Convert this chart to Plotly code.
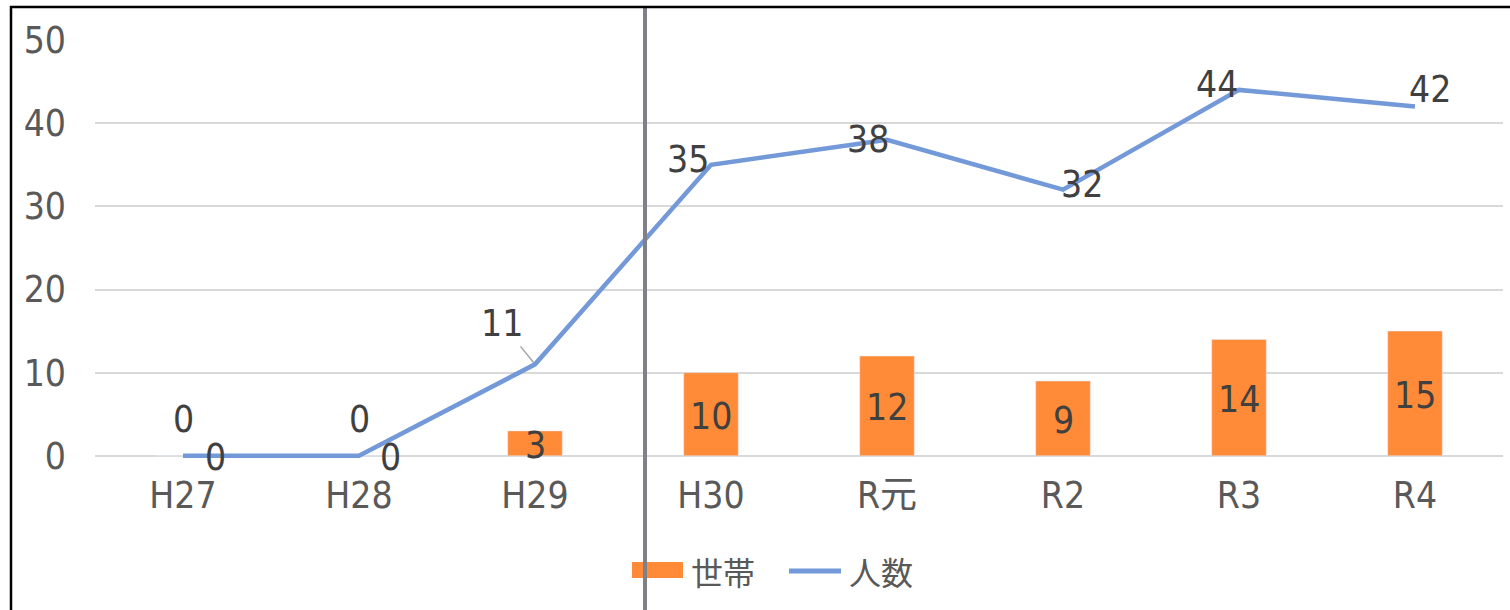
import plotly.graph_objects as go

categories = ["H27", "H28", "H29", "H30", "R元", "R2", "R3", "R4"]
households = [0, 0, 3, 10, 12, 9, 14, 15]
persons = [0, 0, 11, 35, 38, 32, 44, 42]
y_ticks = [0, 10, 20, 30, 40, 50]

# label offsets (pixels) for line labels
line_label_shift = [(32, -2), (31, -2), (-33, 41), (-23, 5), (-19, 0), (19, 5), (-22, 5), (15, 17)]

FONT = "DejaVu Sans Condensed, Noto Sans CJK JP, sans-serif"
LBL = 37
ORANGE = "#FF8A38"
BLUE = "#7399D9"

# plot-area geometry in pixels (for the hand-drawn legend and frame)
L, R_, T, B = 95, 7, 40, 150
W, H = 1510, 610
PW, PH = W - L - R_, H - T - B


def px(x):
    return (x - L) / PW


def py(y):
    return (H - B - y) / PH


fig = go.Figure()
fig.add_trace(go.Bar(x=categories, y=households, name="世帯", marker_color=ORANGE,
                     width=0.31, showlegend=False))
fig.add_trace(go.Scatter(x=categories, y=persons, name="人数", mode="lines",
                         line=dict(color=BLUE, width=4.5), showlegend=False))

anns = []
for c, v in zip(categories, households):
    if v == 0:
        anns.append(dict(x=c, y=v, text=str(v), showarrow=False, yshift=36,
                         font=dict(size=LBL, color="#404040", family=FONT)))
    else:
        anns.append(dict(x=c, y=v / 2, text=str(v), showarrow=False, yshift=-2,
                         font=dict(size=LBL, color="#404040", family=FONT)))
for c, v, (dx, dy) in zip(categories, persons, line_label_shift):
    if c == "H29":
        anns.append(dict(x=c, y=v, text=str(v), showarrow=True, arrowhead=0,
                         arrowwidth=1.5, arrowcolor="#A6A6A6", ax=dx, ay=-dy, standoff=2,
                         font=dict(size=LBL, color="#404040", family=FONT)))
    else:
        anns.append(dict(x=c, y=v, text=str(v), showarrow=False, xshift=dx, yshift=dy,
                         font=dict(size=LBL, color="#404040", family=FONT)))

# legend (drawn by hand so the swatches match the reference size)
legend_font = dict(size=32, family="Noto Sans CJK JP", color="#595959")
anns.append(dict(xref="paper", yref="paper", x=px(689), y=py(571), xanchor="left",
                 yanchor="middle", text="世帯", showarrow=False, font=legend_font))
anns.append(dict(xref="paper", yref="paper", x=px(847), y=py(571), xanchor="left",
                 yanchor="middle", text="人数", showarrow=False, font=legend_font))

fig.update_layout(
    width=W, height=H,
    margin=dict(l=L, r=R_, t=T, b=B),
    paper_bgcolor="white", plot_bgcolor="white",
    font=dict(family=FONT, color="#595959", size=LBL),
    showlegend=False,
    bargap=0.69,
    annotations=anns,
    xaxis=dict(type="category", showgrid=False, showline=False, ticks="",
               ticklabelstandoff=10, automargin=False,
               tickfont=dict(size=LBL, family=FONT, color="#595959")),
    yaxis=dict(range=[-0.5, 50], tickvals=y_ticks, showgrid=True, gridcolor="#D9D9D9",
               gridwidth=2, zeroline=False, showline=False, ticks="", ticklabelstandoff=28,
               automargin=False,
               tickfont=dict(size=LBL, family=FONT, color="#595959")),
    shapes=[
        dict(type="rect", xref="paper", yref="paper", x0=px(632), x1=px(683),
             y0=py(578), y1=py(562), fillcolor=ORANGE, line=dict(width=0)),
        dict(type="line", xref="paper", yref="paper", x0=px(789), x1=px(841),
             y0=py(571), y1=py(571), line=dict(color=BLUE, width=5)),
        dict(type="line", xref="x", yref="paper", x0=2.625, x1=2.625, y0=py(615), y1=py(8),
             line=dict(color="#7F8088", width=4)),
        dict(type="rect", xref="paper", yref="paper", x0=px(11), x1=px(1515), y0=py(615),
             y1=py(7), line=dict(color="black", width=2.5), fillcolor="rgba(0,0,0,0)"),
    ],
)

fig.write_html("out.html", config={"displayModeBar": False},
               post_script="document.body.style.margin='0';")
